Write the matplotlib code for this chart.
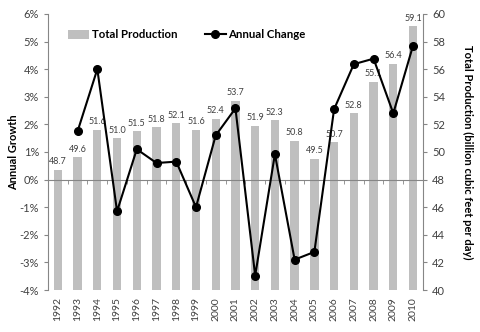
import numpy as np
import matplotlib
matplotlib.use("Agg")
import matplotlib.pyplot as plt
from matplotlib.ticker import FuncFormatter, MultipleLocator, FixedLocator

plt.rcParams['font.family'] = ['Lato', 'DejaVu Sans']

# data
years = [str(y) for y in range(1992, 2011)]
production = [48.7, 49.6, 51.6, 51.0, 51.5, 51.8, 52.1, 51.6, 52.4, 53.7,
              51.9, 52.3, 50.8, 49.5, 50.7, 52.8, 55.1, 56.4, 59.1]
growth = [np.nan, 1.75, 4.0, -1.15, 1.1, 0.6, 0.65, -1.0, 1.6, 2.58,
          -3.48, 0.92, -2.9, -2.62, 2.55, 4.18, 4.38, 2.4, 4.85]

gray_txt = '#404040'
axis_col = '#868686'

fig = plt.figure(figsize=(4.8, 3.32), dpi=100)
ax1 = fig.add_axes([0.1, 0.1265, 0.781, 0.8315])
ax2 = ax1.twinx()

x = np.arange(len(years))

# bars: total production on the right-hand scale
ax1.bar(x, np.array(production) - 40, bottom=40, width=0.42, color='#bfbfbf',
        label='Total Production', zorder=1)
for xi, v in zip(x, production):
    ax1.text(xi, v + 0.25, f'{v:.1f}', ha='center', va='bottom', fontsize=6.5,
             color=gray_txt)
ax1.set_ylim(40, 60)
ax1.set_xlim(-0.5, len(years) - 0.5)
ax1.yaxis.tick_right()
ax1.yaxis.set_label_position('right')
ax1.yaxis.set_major_locator(MultipleLocator(2))
ax1.set_ylabel('Total Production (billion cubic feet per day)', rotation=270,
               labelpad=20, fontsize=8, fontweight='bold', color='black')
ax1.set_xticks(x)
ax1.set_xticklabels(years, rotation=90, fontsize=7.5, color=gray_txt)
ax1.tick_params(axis='x', which='both', length=0, pad=5)
ax1.tick_params(axis='y', length=3, colors=axis_col, labelcolor=gray_txt,
                labelsize=8, direction='out')

# line: annual growth on the left-hand scale
ax2.plot(x, growth, color='black', lw=1.5, marker='o', ms=5.5,
         label='Annual Change', zorder=3)
ax2.set_ylim(-4, 6)
ax2.yaxis.tick_left()
ax2.yaxis.set_label_position('left')
ax2.yaxis.set_major_locator(MultipleLocator(1))
ax2.yaxis.set_major_formatter(FuncFormatter(lambda v, p: f'{v:.0f}%'))
ax2.set_ylabel('Annual Growth', fontsize=8, fontweight='bold', labelpad=0)
ax2.tick_params(axis='y', length=3, colors=axis_col, labelcolor=gray_txt,
                labelsize=8, direction='out')

# zero line with category-boundary tick marks
ax2.xaxis.set_visible(True)
ax2.spines['bottom'].set_position(('data', 0))
ax2.spines['bottom'].set_color(axis_col)
ax2.xaxis.set_minor_locator(FixedLocator(x[:-1] + 0.5))
ax2.tick_params(axis='x', which='major', length=0, labelbottom=False)
ax2.tick_params(axis='x', which='minor', length=3, direction='out',
                colors=axis_col)
ax1.tick_params(axis='x', which='minor', length=0)

for a in (ax1, ax2):
    a.spines['top'].set_visible(False)
ax1.spines['bottom'].set_visible(False)
ax1.spines['left'].set_visible(False)
ax1.spines['right'].set_color(axis_col)
ax2.spines['left'].set_color(axis_col)
ax2.spines['right'].set_visible(False)

h1, l1 = ax1.get_legend_handles_labels()
h2, l2 = ax2.get_legend_handles_labels()
leg = fig.legend(h1 + h2, l1 + l2, ncol=2, loc='center left',
                 bbox_to_anchor=(0.12, 0.895), frameon=False,
                 prop={'size': 8.2, 'weight': 'bold'}, handlelength=1.9,
                 handleheight=0.9, columnspacing=2.4, handletextpad=0.2)

fig.savefig('out.png', dpi=100)
